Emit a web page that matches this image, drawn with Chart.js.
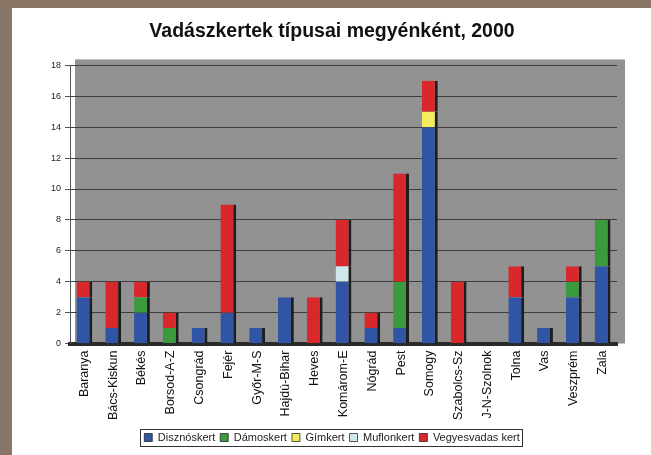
<!DOCTYPE html>
<html>
<head>
<meta charset="utf-8">
<script src="https://cdn.jsdelivr.net/npm/chart.js@4"></script>
<style>
  html, body { margin: 0; padding: 0; background: #8a7666; width: 651px; height: 455px; overflow: hidden; }
  #doboz { position: absolute; left: 12px; top: 8px; width: 639px; height: 447px; background: #ffffff; }
</style>
</head>
<body>
<div id="doboz"><canvas id="grafikon" width="639" height="447"></canvas></div>
<script>
// megyék
var megyek = ["Baranya", "Bács-Kiskun", "Békés", "Borsod-A-Z", "Csongrád", "Fejér", "Győr-M-S",
  "Hajdú-Bihar", "Heves", "Komárom-E", "Nógrád", "Pest", "Somogy", "Szabolcs-Sz",
  "J-N-Szolnok", "Tolna", "Vas", "Veszprém", "Zala"];

// vadászkertek típusonként
var disznoskert = [3, 1, 2, 0, 1, 2, 1, 3, 0, 4, 1, 1, 14, 0, 0, 3, 1, 3, 5];
var damoskert   = [0, 0, 1, 1, 0, 0, 0, 0, 0, 0, 0, 3, 0, 0, 0, 0, 0, 1, 3];
var gimkert     = [0, 0, 0, 0, 0, 0, 0, 0, 0, 0, 0, 0, 1, 0, 0, 0, 0, 0, 0];
var muflonkert  = [0, 0, 0, 0, 0, 0, 0, 0, 0, 1, 0, 0, 0, 0, 0, 0, 0, 0, 0];
var vegyes      = [1, 3, 1, 1, 0, 7, 0, 0, 3, 3, 1, 7, 2, 4, 0, 2, 0, 1, 0];

var yTickek = [0, 2, 4, 6, 8, 10, 12, 14, 16, 18];

var betu = "Arial, 'Liberation Sans', sans-serif";

function sorozat(nev, adat, szin) {
  return {
    label: nev,
    data: adat,
    backgroundColor: szin,
    borderColor: "#1e1e1e",
    borderWidth: { left: 0, right: 3, top: 0, bottom: 0 },
    borderSkipped: false,
    barPercentage: 0.55,
    categoryPercentage: 1
  };
}

// szürke hátfal a rajzterület mögé
var hatter = {
  id: "hatter",
  beforeDraw: function(chart) {
    var a = chart.chartArea, ctx = chart.ctx;
    ctx.save();
    ctx.fillStyle = "#929292";
    ctx.fillRect(a.left + 5, a.top - 6, a.right - a.left + 3, a.bottom - a.top + 6);
    ctx.restore();
  },
  afterDraw: function(chart) {
    // keret a jelmagyarázat köré
    var lg = chart.legend, ctx = chart.ctx;
    if (!lg || !lg.legendHitBoxes.length) return;
    var b = lg.legendHitBoxes;
    var x0 = b[0].left - 4, x1 = b[b.length - 1].left + b[b.length - 1].width + 3;
    var y0 = b[0].top - 3, y1 = b[0].top + b[0].height + 3;
    ctx.save();
    ctx.strokeStyle = "#333";
    ctx.lineWidth = 1;
    ctx.strokeRect(Math.round(x0) + 0.5, Math.round(y0) + 0.5, Math.round(x1 - x0), Math.round(y1 - y0));
    ctx.restore();
  }
};

new Chart(document.getElementById("grafikon").getContext("2d"), {
  type: "bar",
  data: {
    labels: megyek,
    datasets: [
      sorozat("Disznóskert", disznoskert, "#2f55a4"),
      sorozat("Dámoskert", damoskert, "#3c9a3e"),
      sorozat("Gímkert", gimkert, "#f3ec5c"),
      sorozat("Muflonkert", muflonkert, "#cfe8ea"),
      sorozat("Vegyesvadas kert", vegyes, "#d8282c")
    ]
  },
  options: {
    responsive: false,
    animation: false,
    layout: { padding: { left: 35, right: 34, top: 4, bottom: 2 } },
    plugins: {
      title: {
        display: true,
        text: "Vadászkertek típusai megyénként, 2000",
        color: "#111",
        font: { family: betu, size: 19.5, weight: "bold" },
        padding: { top: 8, bottom: 22 }
      },
      legend: {
        position: "bottom",
        labels: {
          color: "#222",
          font: { family: betu, size: 11 },
          boxWidth: 8,
          boxHeight: 8,
          padding: 5
        }
      },
      tooltip: { enabled: false }
    },
    scales: {
      x: {
        stacked: true,
        grid: { display: false, drawTicks: false },
        border: { display: true, color: "#2a2a2a", width: 4 },
        ticks: {
          minRotation: 90,
          maxRotation: 90,
          color: "#111",
          padding: 7,
          font: { family: betu, size: 12.5 }
        }
      },
      y: {
        stacked: true,
        min: 0,
        max: 18,
        afterBuildTicks: function(axis) {
          axis.ticks = yTickek.map(function(v) { return { value: v }; });
        },
        grid: { color: "#3e3e3e", lineWidth: 1, tickLength: 5, tickColor: "#555" },
        border: { display: true, color: "#555" },
        ticks: {
          color: "#1a1a1a",
          padding: 4,
          font: { family: betu, size: 9 }
        }
      }
    }
  },
  plugins: [hatter]
});
</script>
</body>
</html>
